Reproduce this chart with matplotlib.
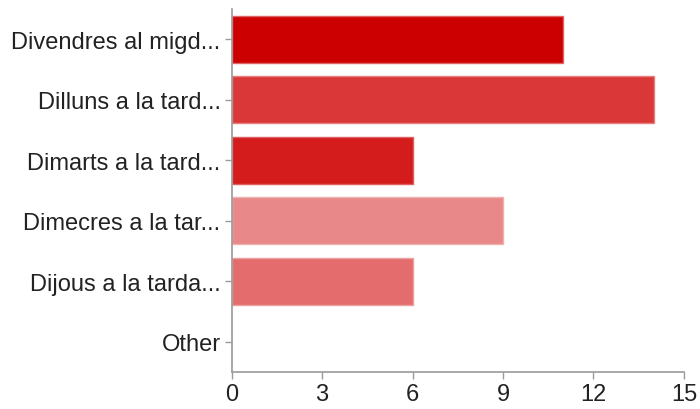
import matplotlib
matplotlib.use("Agg")
import matplotlib.pyplot as plt

categories = ["Divendres al migd...", "Dilluns a la tard...", "Dimarts a la tard...",
              "Dimecres a la tar...", "Dijous a la tarda...", "Other"]
values = [11, 14, 6, 9, 6, 0]
colors = ["#cc0000", "#da3838", "#d41c1c", "#e88888", "#e46c6c", "#e46c6c"]
edge_colors = ["#e06666", "#e88080", "#e06060", "#f0b0b0", "#eca0a0", "none"]
x_ticks = [0, 3, 6, 9, 12, 15]

plt.rcParams["font.family"] = ["Liberation Sans", "DejaVu Sans"]

fig = plt.figure(figsize=(7, 4.1), dpi=100)
ax = fig.add_axes([0.331, 0.0902, 0.646, 0.8854])

y = list(range(len(categories)))
ax.barh(y, values, height=0.78, color=colors, edgecolor=edge_colors,
        linewidth=[1 if v > 0 else 0 for v in values])

ax.set_ylim(len(categories) - 0.5, -0.5)
ax.set_xlim(0, 15)
ax.set_xticks(x_ticks)
ax.set_xticklabels([str(t) for t in x_ticks])
ax.set_yticks(y)
ax.set_yticklabels(categories)

for side in ("top", "right"):
    ax.spines[side].set_visible(False)
for side in ("left", "bottom"):
    ax.spines[side].set_color("#9a9a9a")
    ax.spines[side].set_linewidth(1.2)

ax.tick_params(axis="both", colors="#9a9a9a", length=5, width=1, labelsize=17,
               labelcolor="#222222")
ax.tick_params(axis="y", pad=3)
ax.tick_params(axis="x", pad=3)

fig.savefig("out.png", dpi=100, facecolor="white")
